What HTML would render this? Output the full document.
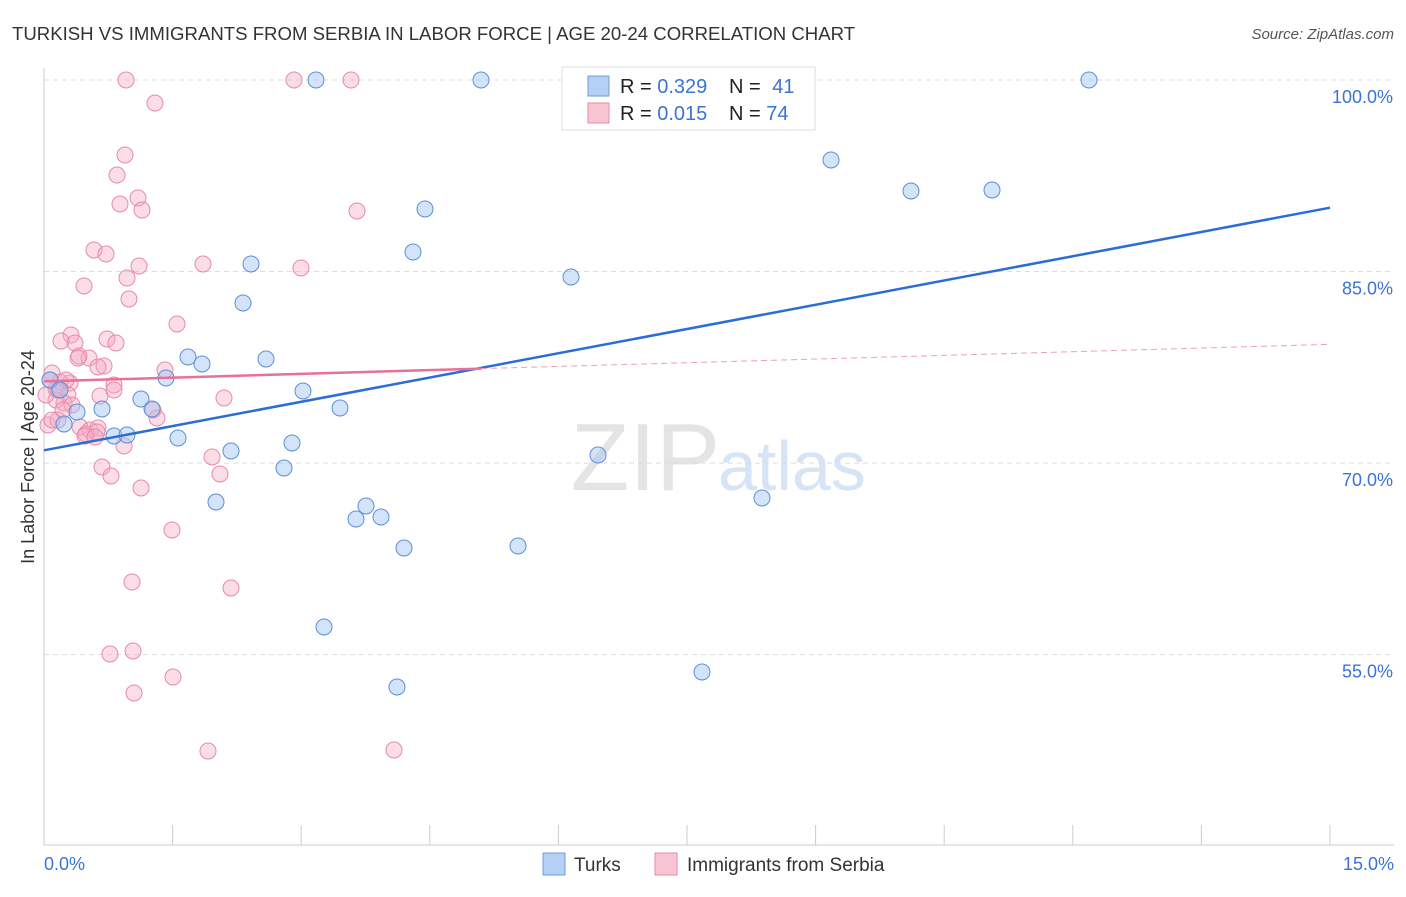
<!DOCTYPE html>
<html><head><meta charset="utf-8"><style>
body{margin:0;background:#fff;font-family:"Liberation Sans",sans-serif;}
svg text{font-family:"Liberation Sans",sans-serif;}
</style></head><body>
<svg id="chart" width="1406" height="892" xmlns="http://www.w3.org/2000/svg">
<text x="12" y="40" font-size="18.6" fill="#333">TURKISH VS IMMIGRANTS FROM SERBIA IN LABOR FORCE | AGE 20-24 CORRELATION CHART</text>
<text x="1394" y="39" font-size="15" fill="#555" font-style="italic" text-anchor="end">Source: ZipAtlas.com</text>
<text x="720" y="490" font-size="96" fill="#e4e4e4" text-anchor="end" font-family="Liberation Serif">ZIP</text>
<text x="718" y="490" font-size="70" fill="#d6e4f5">atlas</text>
<g id="grid"></g>
<g id="axes"></g>
<g id="pts"></g>
<g id="lines"></g>
<text transform="translate(34,457) rotate(-90)" font-size="18" fill="#333" text-anchor="middle">In Labor Force | Age 20-24</text>
<text x="44" y="870" font-size="18" fill="#3b73d6">0.0%</text>
<text x="1394" y="870" font-size="18" fill="#3b73d6" text-anchor="end">15.0%</text>
<g>
<rect x="562" y="67" width="253" height="63" fill="#fff" stroke="#ddd"/>
<rect x="588" y="76" width="21" height="20" fill="#b4d0f4" stroke="#6e9ce0"/>
<rect x="588" y="103" width="21" height="20" fill="#f8c4d4" stroke="#e88aa9"/>
<text x="620" y="93" font-size="20" fill="#222">R = <tspan fill="#3b73d6">0.329</tspan></text>
<text x="729" y="93" font-size="20" fill="#222">N = <tspan fill="#3b73d6" dx="6">41</tspan></text>
<text x="620" y="120" font-size="20" fill="#222">R = <tspan fill="#3b73d6">0.015</tspan></text>
<text x="729" y="120" font-size="20" fill="#222">N = <tspan fill="#3b73d6">74</tspan></text>
</g>
<g><rect x="543" y="853" width="22" height="22" fill="#b4d0f4" stroke="#6e9ce0"/><text x="574" y="871" font-size="19" fill="#333">Turks</text></g>
<g><rect x="655" y="853" width="22" height="22" fill="#f8c4d4" stroke="#e88aa9"/><text x="687" y="871" font-size="19" fill="#333">Immigrants from Serbia</text></g>
</svg>
<script>
const yTicks=[100,85,70,55];
const xTickCount=10;
const blueX=[316,481,1089,831,911,992,425,413,251,571,243,188,202,266,166,141,303,340,152,102,77,64,114,127,178,231,292,284,598,216,762,366,356,381,404,518,324,397,702,50,60];
const blueY=[80,80,80,160,191,190,209,252,264,277,303,357,364,359,378,399,391,408,409,409,412,424,436,435,438,451,443,468,455,502,498,506,519,517,548,546,627,687,672,380,390];
const pinkX=[126,294,351,155,125,117,138,120,142,357,94,106,139,203,301,127,84,129,177,71,61,75,107,116,79,89,78,104,98,165,52,70,60,114,56,68,100,114,64,72,224,153,157,48,58,80,90,98,86,124,97,212,102,220,111,141,172,132,231,110,133,173,134,208,394,50,56,63,46,85,66,52,95,58];
const pinkY=[80,80,80,103,155,175,198,204,210,211,250,254,266,264,268,278,286,299,324,335,341,343,339,343,356,358,358,366,367,370,373,383,382,385,389,395,396,390,403,405,398,410,418,425,420,427,430,428,434,446,432,457,467,474,476,488,530,582,588,654,651,677,693,751,750,380,400,410,395,436,380,420,437,390];
const toDX=p=>(p-44)/1286*15, toDY=p=>100-(p-80)/12.77;
const turksX=blueX.map(toDX), turksY=blueY.map(toDY);
const serbX=pinkX.map(toDX), serbY=pinkY.map(toDY);
const blueFit=[[0,71.0],[15,90.0]];
const pinkFit=[[0,76.4],[5.1,77.4],[15,79.3]];
const sx=v=>44+v/15*1286, sy=v=>80+(100-v)*12.77;
const NS="http://www.w3.org/2000/svg";
function mk(t,a,parent){const e=document.createElementNS(NS,t);for(const k in a)e.setAttribute(k,a[k]);document.getElementById(parent).appendChild(e);return e;}
yTicks.forEach(v=>{
 const l=mk('line',{x1:44,x2:1394,y1:sy(v),y2:sy(v),stroke:'#ddd','stroke-dasharray':'5,4'},'grid');
 
 
 const t=mk('text',{x:1393,y:sy(v)+23,'font-size':18,fill:'#3b73d6','text-anchor':'end'},'grid');
 t.textContent=v.toFixed(1)+'%';
 
 
});
const ax=mk('line',{x1:44,x2:44,y1:68,y2:845,stroke:'#ccc'},'axes');


const bx=mk('line',{x1:44,x2:1394,y1:845,y2:845,stroke:'#ccc'},'axes');


for(let i=1;i<=xTickCount;i++){const x=sx(i*1.5);const t=mk('line',{x1:x,x2:x,y1:825,y2:845,stroke:'#ccc'},'axes');
 
 }
serbX.forEach((v,i)=>{const c=mk('circle',{cx:sx(v),cy:sy(serbY[i]),r:8,fill:'rgba(245,170,195,0.4)',stroke:'#e88aa9','stroke-width':1},'pts');
 
 });
turksX.forEach((v,i)=>{const c=mk('circle',{cx:sx(v),cy:sy(turksY[i]),r:8,fill:'rgba(160,195,240,0.45)',stroke:'#5b8fd9','stroke-width':1},'pts');
 
 });
const bl=mk('line',{x1:sx(blueFit[0][0]),y1:sy(blueFit[0][1]),x2:sx(blueFit[1][0]),y2:sy(blueFit[1][1]),stroke:'#2a6dd4','stroke-width':2.5},'lines');


const pl=mk('line',{x1:sx(pinkFit[0][0]),y1:sy(pinkFit[0][1]),x2:sx(pinkFit[1][0]),y2:sy(pinkFit[1][1]),stroke:'#e8709a','stroke-width':2.5},'lines');


const pd=mk('line',{x1:sx(pinkFit[1][0]),y1:sy(pinkFit[1][1]),x2:sx(pinkFit[2][0]),y2:sy(pinkFit[2][1]),stroke:'#e8a0b8','stroke-width':1,'stroke-dasharray':'6,4'},'lines');


</script>
</body></html>
